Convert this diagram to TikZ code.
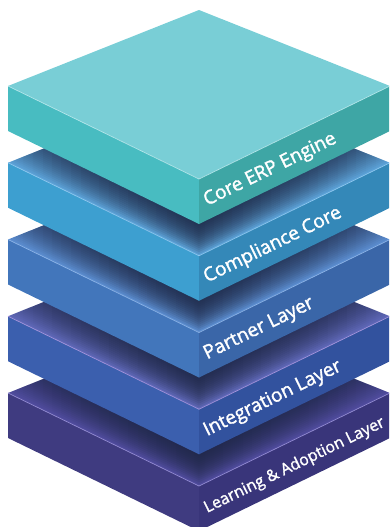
\documentclass[tikz,border=0pt]{standalone}
\usepackage{fontspec}
\setmainfont{Open Sans}
\newfontfamily\labelfont{Open Sans}[FakeBold=1.6]
\usetikzlibrary{fadings}
\definecolor{coreTop}{HTML}{79CED6}
\definecolor{coreLeft}{HTML}{48BCC1}
\definecolor{coreRight}{HTML}{3EA6A5}
\definecolor{coreHl}{HTML}{B2E6EA}
\definecolor{compTop}{HTML}{5CA2D8}
\definecolor{compLeft}{HTML}{3D9FD0}
\definecolor{compRight}{HTML}{3488B8}
\definecolor{compHl}{HTML}{8CC6EE}
\definecolor{partTop}{HTML}{5B8DD0}
\definecolor{partLeft}{HTML}{4276BB}
\definecolor{partRight}{HTML}{3A66A8}
\definecolor{partHl}{HTML}{8AB2E6}
\definecolor{intTop}{HTML}{5F68B8}
\definecolor{intLeft}{HTML}{3B5FAE}
\definecolor{intRight}{HTML}{32529E}
\definecolor{intHl}{HTML}{A292DA}
\definecolor{learnTop}{HTML}{504C9E}
\definecolor{learnLeft}{HTML}{3F3B80}
\definecolor{learnRight}{HTML}{39357A}
\definecolor{learnHl}{HTML}{9088D0}
\definecolor{shadowcol}{HTML}{1E2744}
\tikzfading[name=hfade, left color=transparent!65, right color=transparent!65, middle color=transparent!0]
\tikzset{
  slabtext/.style={text=white, anchor=base west, rotate=26, inner sep=0pt},
  hlline/.style={line width=0.7pt},
}
% #1 offset, #2 node name, #3 top, #4 left, #5 right, #6 highlight, #7 label, #8 font size, #9 shadow flag
\newcommand\drawslab[9]{%
  \begin{scope}[shift={(0,#1)}]
    \fill[#3] (199,10) -- (8,86) -- (199,179) -- (390,86) -- cycle;
    \ifnum#9=1
    \begin{scope}
      \clip (199,10) -- (8,86) -- (199,179) -- (390,86) -- cycle;
      \foreach \k in {0,2,...,30} {
        \fill[shadowcol, opacity=0.12, path fading=hfade]
          (199,{55-76.75+\k}) -- (8,{131-76.75+\k}) -- (199,{224-76.75+\k}) -- (390,{131-76.75+\k}) -- cycle;
      }
    \end{scope}
    \fi
    \fill[#4] (8,86) -- (199,179) -- (199,224) -- (8,131) -- cycle;
    \fill[#5] (199,179) -- (390,86) -- (390,131) -- (199,224) -- cycle;
    \draw[#6, hlline] (8,86) -- (199,179) -- (390,86);
    \node[slabtext, font=\labelfont\fontsize{#8}{#8}\selectfont] (#2) at (207,206) {#7};
  \end{scope}}
\begin{document}
\begin{tikzpicture}[x=1pt, y=-1pt]
  \useasboundingbox (0,0) rectangle (389,527);
  \clip (0,0) rectangle (389,527);
  \drawslab{307}{learn}{learnTop}{learnLeft}{learnRight}{learnHl}{Learning \& Adoption Layer}{16}{1}
  \drawslab{230.25}{integ}{intTop}{intLeft}{intRight}{intHl}{Integration Layer}{19}{1}
  \drawslab{153.5}{partner}{partTop}{partLeft}{partRight}{partHl}{Partner Layer}{19}{1}
  \drawslab{76.75}{compl}{compTop}{compLeft}{compRight}{compHl}{Compliance Core}{19}{1}
  \drawslab{0}{core}{coreTop}{coreLeft}{coreRight}{coreHl}{Core ERP Engine}{19}{0}
\end{tikzpicture}
\end{document}
